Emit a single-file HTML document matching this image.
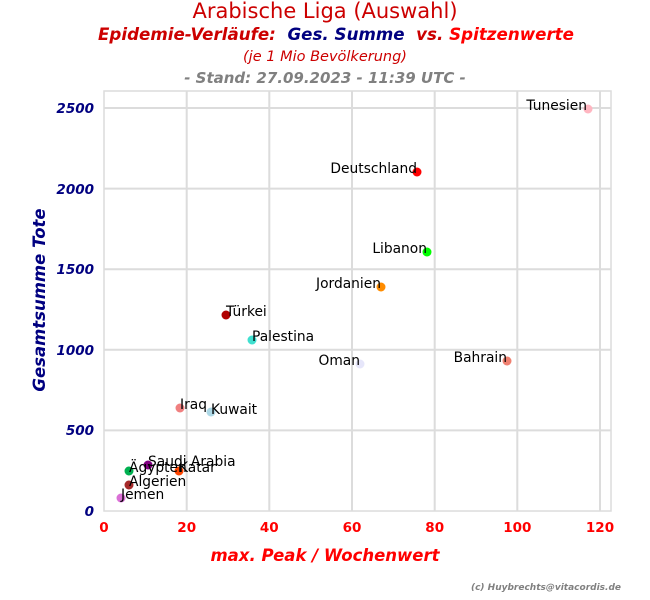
<!DOCTYPE html>
<html><head><meta charset="utf-8"><style>body{margin:0;background:#fff}svg{display:block}text{font-family:"DejaVu Sans","Liberation Sans",sans-serif}</style></head><body>
<svg width="650" height="600" viewBox="0 0 650 600">
<text x="325" y="18" text-anchor="middle" font-size="21" fill="#cc0000">Arabische Liga (Auswahl)</text>
<text x="336" y="40" text-anchor="middle" font-size="16.5" font-weight="bold" font-style="italic" textLength="476" lengthAdjust="spacingAndGlyphs" xml:space="preserve"><tspan fill="#cc0000">Epidemie-Verläufe:  </tspan><tspan fill="#000080">Ges. Summe  </tspan><tspan fill="#cc0000">vs. </tspan><tspan fill="#ff0000">Spitzenwerte</tspan></text>
<text x="325" y="61" text-anchor="middle" font-size="14.5" font-style="italic" fill="#cc0000">(je 1 Mio Bevölkerung)</text>
<text x="325" y="83" text-anchor="middle" font-size="15" font-weight="bold" font-style="italic" fill="#808080">- Stand: 27.09.2023 - 11:39 UTC -</text>
<rect x="104" y="91" width="507" height="420" fill="#fff" stroke="#dcdcdc" stroke-width="1.5"/>
<g stroke="#dcdcdc" stroke-width="2">
<line x1="186.7" y1="91" x2="186.7" y2="511"/><line x1="269.3" y1="91" x2="269.3" y2="511"/><line x1="352" y1="91" x2="352" y2="511"/><line x1="434.7" y1="91" x2="434.7" y2="511"/><line x1="517.3" y1="91" x2="517.3" y2="511"/><line x1="600" y1="91" x2="600" y2="511"/>
<line x1="104" y1="430.4" x2="611" y2="430.4"/><line x1="104" y1="349.8" x2="611" y2="349.8"/><line x1="104" y1="269.2" x2="611" y2="269.2"/><line x1="104" y1="188.6" x2="611" y2="188.6"/><line x1="104" y1="108" x2="611" y2="108"/>
</g>
<g font-size="13.5" font-weight="bold" font-style="italic" fill="#000080" text-anchor="end">
<text x="94" y="516">0</text><text x="94" y="435">500</text><text x="94" y="355">1000</text><text x="94" y="274">1500</text><text x="94" y="194">2000</text><text x="94" y="113">2500</text></g>
<g font-size="13.5" font-weight="bold" fill="#ff0000" text-anchor="middle">
<text x="104" y="532">0</text><text x="186.7" y="532">20</text><text x="269.3" y="532">40</text><text x="352" y="532">60</text><text x="434.7" y="532">80</text><text x="517.3" y="532">100</text><text x="600" y="532">120</text></g>
<text x="325" y="561" text-anchor="middle" font-size="16.5" font-weight="bold" font-style="italic" fill="#ff0000">max. Peak / Wochenwert</text>
<text transform="translate(45,300) rotate(-90)" text-anchor="middle" font-size="16.5" font-weight="bold" font-style="italic" fill="#000080">Gesamtsumme Tote</text>
<text x="621" y="590" text-anchor="end" font-size="9" font-weight="bold" font-style="italic" fill="#808080">(c) Huybrechts@vitacordis.de</text>
<g>
<circle cx="588" cy="109" r="4.5" fill="#ffb6c1"/><circle cx="417" cy="172" r="4.5" fill="#ff0000"/><circle cx="427" cy="252" r="4.5" fill="#00ff00"/><circle cx="381" cy="287" r="4.5" fill="#ff8c00"/><circle cx="226" cy="315" r="4.5" fill="#b00000"/><circle cx="252" cy="340" r="4.5" fill="#40e0d0"/><circle cx="360" cy="364" r="4.5" fill="#e6e6fa"/><circle cx="507" cy="361" r="4.5" fill="#f08070"/><circle cx="180" cy="408" r="4.5" fill="#f08080"/><circle cx="211" cy="412" r="4.5" fill="#add8e6"/><circle cx="148" cy="465" r="4.5" fill="#800080"/><circle cx="179" cy="471" r="4.5" fill="#ff4500"/><circle cx="129" cy="471" r="4.5" fill="#00b050"/><circle cx="129" cy="485" r="4.5" fill="#a52a2a"/><circle cx="121" cy="498" r="4.5" fill="#da70d6"/>
</g>
<g font-size="13.8" fill="#000">
<text x="587" y="110" text-anchor="end">Tunesien</text><text x="417" y="173" text-anchor="end">Deutschland</text><text x="427" y="253" text-anchor="end">Libanon</text><text x="381" y="288" text-anchor="end">Jordanien</text><text x="226" y="316">Türkei</text><text x="252" y="341">Palestina</text><text x="360" y="365" text-anchor="end">Oman</text><text x="507" y="362" text-anchor="end">Bahrain</text><text x="180" y="409">Iraq</text><text x="211" y="414">Kuwait</text><text x="148" y="466">Saudi Arabia</text><text x="179" y="472">Katar</text><text x="129" y="472">Ägypten</text><text x="129" y="486">Algerien</text><text x="121" y="499">Jemen</text>
</g>
</svg>
</body></html>
